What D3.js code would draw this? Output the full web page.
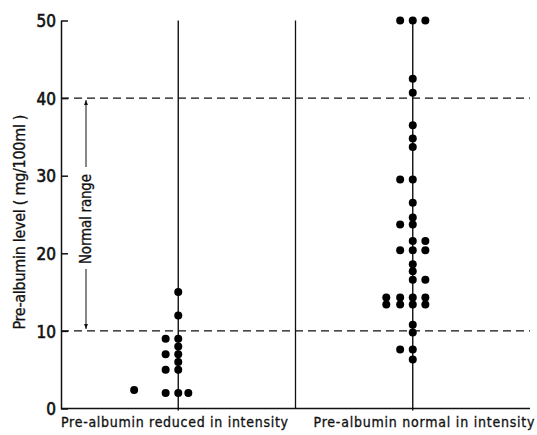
<!DOCTYPE html>
<html lang="en">
<head>
  <meta charset="UTF-8" />
  <title>Pre-albumin levels</title>
  <script src="https://d3js.org/d3.v7.min.js"></script>
  <style>
    body {
      margin: 0;
      background: #fff;
    }
    text {
      font-family: 'DejaVu Sans Condensed', 'DejaVu Sans', sans-serif;
      fill: #111;
      stroke: #111;
      stroke-width: 0.3px;
    }
    .tick text {
      font-family: 'Liberation Sans Narrow', 'DejaVu Sans Condensed', sans-serif;
      font-size: 17px;
      stroke-width: 0.6px;
    }
  </style>
</head>
<body>
  <div id="chart"></div>

  <script>
    // groups along the x axis
    const groups = ["Pre-albumin reduced in intensity", "Pre-albumin normal in intensity"];

    // pre-albumin reduced: level (mg/100ml) and column offset from the group line
    const reducedLevels = [15, 12, 9, 8, 7, 6, 5, 2, 9, 7, 5, 2, 2, 2.4];
    const reducedCols   = [0, 0, 0, 0, 0, 0, 0, 0, -1, -1, -1, -1, 0.8, -3.5];

    // pre-albumin normal
    const normalLevels = [50, 50, 50, 42.5, 40.7, 36.5, 34.8, 33.7, 29.5, 29.5,
                          26.5, 24.6, 23.7, 23.7, 21.6, 21.6, 20.4, 20.4, 20.4,
                          18.6, 17.7, 16.6, 16.6,
                          14.3, 14.3, 14.3, 14.3, 13.4, 13.4, 13.4, 13.4,
                          10.8, 9.8, 7.6, 7.6, 6.3];
    const normalCols   = [-1, 0, 1, 0, 0, 0, 0, 0, -1, 0,
                          0, 0, -1, 0, 0, 1, -1, 0, 1,
                          0, 0, 0, 1,
                          -2.1, -1, 0, 1, -2.1, -1, 0, 1,
                          0, 0, -1, 0, 0];

    const yTicks = [0, 10, 20, 30, 40, 50];
    const normalRange = [10, 40];

    const width = 537, height = 435;
    const mLeft = 61, mRight = 530, mTop = 20.5, mBottom = 408.5;

    const svg = d3.select("#chart").append("svg")
      .attr("width", width)
      .attr("height", height);

    const y = d3.scaleLinear().domain([0, 50]).range([mBottom, mTop]);
    const x = d3.scaleBand().domain(groups).range([mLeft, mRight]);
    const col = d3.scaleLinear().domain([-1, 1]).range([-12.6, 12.6]);
    const cx = g => x(g) + x.bandwidth() / 2;

    // y axis, ticks pointing inward
    const yAxis = d3.axisRight(y).tickValues(yTicks).tickSize(7).tickSizeOuter(0);
    const ag = svg.append("g")
      .attr("transform", `translate(${mLeft},0)`)
      .call(yAxis);
    ag.select(".domain").attr("stroke", "#111").attr("stroke-width", 1.5);
    ag.selectAll(".tick line").attr("stroke", "#111").attr("stroke-width", 1.5);
    ag.selectAll(".tick text")
      .attr("x", -5)
      .attr("text-anchor", "end")
      .attr("dy", "0.36em");

    // bottom line
    svg.append("line")
      .attr("x1", mLeft).attr("x2", mRight)
      .attr("y1", y(0)).attr("y2", y(0))
      .attr("stroke", "#111").attr("stroke-width", 1.5);

    // separator between groups
    svg.append("line")
      .attr("x1", x(groups[1])).attr("x2", x(groups[1]))
      .attr("y1", y(50)).attr("y2", y(0))
      .attr("stroke", "#111").attr("stroke-width", 1.3);

    // group vertical lines
    svg.selectAll(".gline")
      .data(groups)
      .enter().append("line")
      .attr("x1", cx).attr("x2", cx)
      .attr("y1", y(50)).attr("y2", y(0) + 2)
      .attr("stroke", "#111").attr("stroke-width", 1.4);

    // dashed normal range limits
    svg.selectAll(".ref")
      .data(normalRange)
      .enter().append("line")
      .attr("x1", mLeft).attr("x2", mRight)
      .attr("y1", d => y(d)).attr("y2", d => y(d))
      .attr("stroke", "#111").attr("stroke-width", 1.3)
      .attr("stroke-dasharray", "8,5");

    // points
    const pts = [];
    reducedLevels.forEach((v, i) => pts.push({ g: groups[0], v: v, c: reducedCols[i] }));
    normalLevels.forEach((v, i) => pts.push({ g: groups[1], v: v, c: normalCols[i] }));

    svg.selectAll(".pt")
      .data(pts)
      .enter().append("circle")
      .attr("cx", d => cx(d.g) + col(d.c))
      .attr("cy", d => y(d.v))
      .attr("r", 4)
      .attr("fill", "#000");

    // group labels
    svg.selectAll(".glabel")
      .data(groups)
      .enter().append("text")
      .attr("x", (d, i) => i === 0 ? mLeft : x(d) + 18)
      .attr("y", 427)
      .attr("font-size", 14)
      .attr("textLength", (d, i) => i === 0 ? 227 : 221)
      .attr("lengthAdjust", "spacing")
      .text(d => d);

    // y title
    svg.append("text")
      .attr("transform", `translate(25,222) rotate(-90)`)
      .attr("text-anchor", "middle")
      .attr("font-size", 16)
      .attr("textLength", 215)
      .attr("lengthAdjust", "spacing")
      .text("Pre-albumin level ( mg/100ml )");

    // normal range arrow
    const defs = svg.append("defs");
    defs.append("marker")
      .attr("id", "arr")
      .attr("viewBox", "0 0 10 10")
      .attr("refX", 10).attr("refY", 5)
      .attr("markerWidth", 5).attr("markerHeight", 7)
      .attr("orient", "auto")
      .append("path").attr("d", "M0,1 L10,5 L0,9 Z").attr("fill", "#111");

    const ax = 86, mid = 219;
    svg.append("line")
      .attr("x1", ax).attr("x2", ax)
      .attr("y1", mid - 52).attr("y2", y(normalRange[1]) + 2)
      .attr("stroke", "#111").attr("stroke-width", 1)
      .attr("marker-end", "url(#arr)");
    svg.append("line")
      .attr("x1", ax).attr("x2", ax)
      .attr("y1", mid + 50).attr("y2", y(normalRange[0]) - 2)
      .attr("stroke", "#111").attr("stroke-width", 1)
      .attr("marker-end", "url(#arr)");
    svg.append("text")
      .attr("transform", `translate(${ax + 5},${mid}) rotate(-90)`)
      .attr("text-anchor", "middle")
      .attr("font-size", 15)
      .attr("textLength", 90)
      .attr("lengthAdjust", "spacing")
      .text("Normal range");
  </script>
</body>
</html>
